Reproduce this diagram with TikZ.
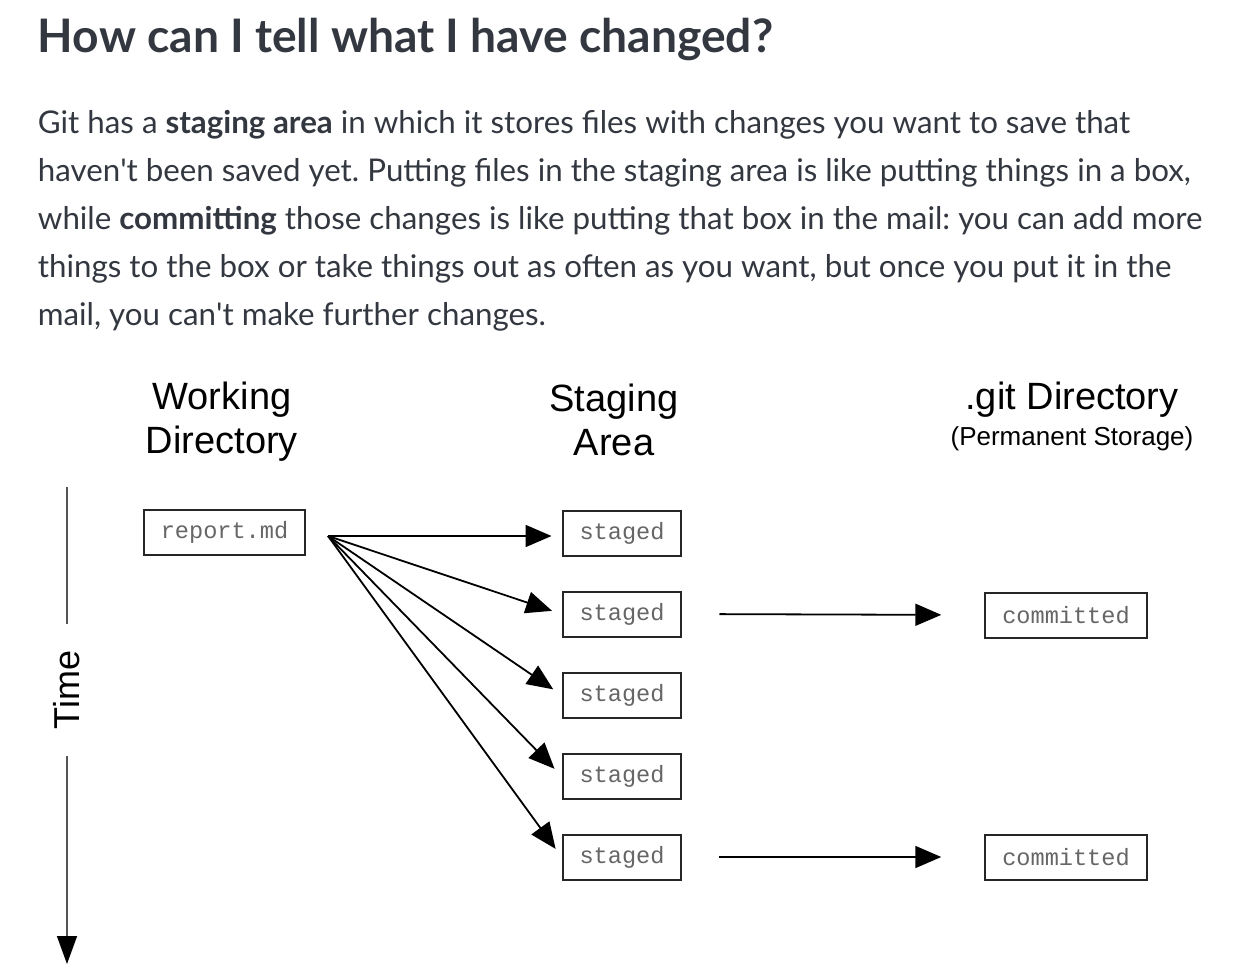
\documentclass[tikz,border=0pt]{standalone}
\usepackage{fontspec}
\setmainfont{Lato}
\setmonofont{Liberation Mono}
\newfontfamily\diagfont{Liberation Sans}
\usetikzlibrary{arrows.meta,positioning}
\definecolor{inkgray}{HTML}{333840}
\definecolor{boxtext}{HTML}{666666}
\definecolor{axisgray}{HTML}{555555}
\frenchspacing

\begin{document}
\begin{tikzpicture}[x=1pt,y=-1pt,>={Triangle[length=26pt,width=22pt]},line width=1.8pt,
  filebox/.style={draw=black!85,line width=2pt,inner xsep=17pt,minimum height=45pt,text=boxtext,
    font=\ttfamily\fontsize{23.6}{26}\selectfont},
  colhead/.style={align=center,font=\diagfont\fontsize{38}{44}\selectfont},
  fanout/.style={->,shorten >=10pt}]
  \useasboundingbox[fill=white] (0,0) rectangle (1246,976);

  % heading and text
  \node[anchor=base west,inner sep=0,text=inkgray,font=\bfseries\fontsize{46.2}{50}\selectfont]
    (title) at (37,53) {How can I tell what I have changed?};
  \node[anchor=north west,inner sep=0,align=left,text=inkgray,font=\fontsize{31.3}{48}\selectfont]
    (para) at (37,109) {Git has a \textbf{staging area} in which it stores files with changes you want to save that\\
    haven\textquotesingle t been saved yet. Putting files in the staging area is like putting things in a box,\\
    while \textbf{committing} those changes is like putting that box in the mail: you can add more\\
    things to the box or take things out as often as you want, but once you put it in the\\
    mail, you can\textquotesingle t make further changes.};

  % column headings
  \node[colhead] (wdir) at (222,422) {Working\\Directory};
  \node[colhead] (stage) at (614,420) {Staging\\Area};
  \node[colhead] (gitdir) at (1072,416) {.git Directory\\[-8pt]{\fontsize{26}{30}\selectfont(Permanent Storage)}};

  % files
  \node[filebox] (report) at (224.5,532.5) {report.md};
  \node[filebox] (s1) at (622,533.5) {staged};
  \node[filebox] (s2) at (622,614) {staged};
  \node[filebox] (s3) at (622,695) {staged};
  \node[filebox] (s4) at (622,776) {staged};
  \node[filebox] (s5) at (622,857) {staged};
  \node[filebox] (c1) at (1066,615) {committed};
  \node[filebox] (c2) at (1066,857) {committed};

  % add and commit
  \coordinate (src) at (328,536);
  \draw[fanout] (src) -- (src -| s1.west);
  \foreach \s in {s2,s3,s4,s5}
    \draw[fanout] (src) -- (\s.west);
  \draw[->,shorten <=37pt,shorten >=43pt] (s2.east) -- (c1.west);
  \draw[->,shorten <=37pt,shorten >=43pt] (s5.east) -- (c2.west);

  % time axis
  \node[rotate=90,font=\diagfont\fontsize{36}{40}\selectfont] (time) at (67,690) {Time};
  \coordinate (ttop) at (67,487);
  \coordinate (tend) at (67,964);
  \draw[axisgray,line width=1.5pt,shorten >=22pt] (ttop) -- (time.east);
  \draw[-{Triangle[length=28pt,width=20pt,color=black]},axisgray,line width=1.5pt,shorten <=22pt] (time.west) -- (tend);
\end{tikzpicture}
\end{document}
